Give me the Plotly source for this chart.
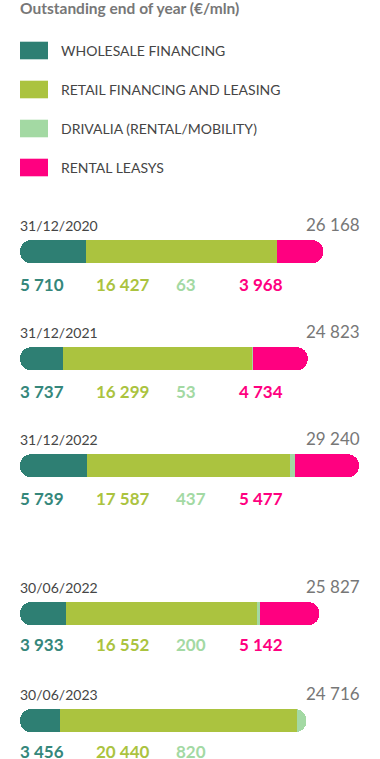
import plotly.graph_objects as go

# ---------------- data ----------------
title_text = "Outstanding end of year (€/mln)"
series_names = ["WHOLESALE FINANCING", "RETAIL FINANCING AND LEASING",
                "DRIVALIA (RENTAL/MOBILITY)", "RENTAL LEASYS"]
series_colors = ["#2e7f73", "#abc33f", "#a3d9a3", "#ff0080"]
label_colors = ["#35877b", "#abc33f", "#a3d9a3", "#ff0080"]

annual_dates = ["31/12/2020", "31/12/2021", "31/12/2022"]
annual_wholesale = [5710, 3737, 5739]
annual_retail = [16427, 16299, 17587]
annual_drivalia = [63, 53, 437]
annual_leasys = [3968, 4734, 5477]
annual_totals = [26168, 24823, 29240]

half_dates = ["30/06/2022", "30/06/2023"]
half_wholesale = [3933, 3456]
half_retail = [16552, 20440]
half_drivalia = [200, 820]
half_leasys = [5142, 0]
half_totals = [25827, 24716]

# ---------------- style ----------------
W, H = 380, 759
ML = 20
PLOT_W = W - ML
X_MAX = 31060
BAR_W = 0.215
RADIUS = 11.5
FONT = "Lato, 'Open Sans', sans-serif"
DARK = "#454545"
GREY = "#777777"
value_cols_px = [20, 96, 176, 239]
PADX = -2


def fmt(v):
    return f"{v:,}".replace(",", " ")


def px_to_paper_y(py):
    return 1 - py / H


def px_to_paper_x(px):
    return (px - ML) / PLOT_W


groups = [
    dict(dates=annual_dates, vals=[annual_wholesale, annual_retail, annual_drivalia, annual_leasys],
         totals=annual_totals, xa="x", ya="y", val_shift=-33),
    dict(dates=half_dates, vals=[half_wholesale, half_retail, half_drivalia, half_leasys],
         totals=half_totals, xa="x2", ya="y2", val_shift=-30.5),
]

fig = go.Figure()
annotations = []


def bar(y, x, base, color, g, radius=None):
    m = dict(color=color, line=dict(width=0))
    if radius:
        m["cornerradius"] = radius
    return go.Bar(orientation="h", y=y, x=x, base=base, width=BAR_W, marker=m,
                  xaxis=g["xa"], yaxis=g["ya"], hoverinfo="skip", showlegend=False)


for g in groups:
    dates = g["dates"]
    vals = g["vals"]
    totals = [sum(vals[i][r] for i in range(4)) for r in range(len(dates))]
    n = len(dates)
    last_idx = [max(i for i in range(4) if vals[i][r] > 0) for r in range(n)]
    starts = []
    for r in range(n):
        acc = 0
        row = []
        for i in range(4):
            row.append(acc)
            acc += vals[i][r]
        starts.append(row)

    half = [t / 2 for t in totals]
    # rounded left cap (wholesale colour) – its inner end is hidden by the middle segments
    fig.add_trace(bar(dates, half, [0] * n, series_colors[0], g, RADIUS))
    # rounded right cap (colour of each row's last segment)
    fig.add_trace(bar(dates, half, half, [series_colors[last_idx[r]] for r in range(n)], g, RADIUS))

    # square segments drawn on top (all except the outer two)
    for i in range(1, 4):
        xs = [vals[i][r] if (vals[i][r] > 0 and last_idx[r] != i) else None for r in range(n)]
        bs = [starts[r][i] for r in range(n)]
        fig.add_trace(bar(dates, xs, bs, series_colors[i], g))

    for r in range(n):
        annotations.append(dict(
            text=dates[r], xref="paper", yref=g["ya"], x=0, y=dates[r],
            xanchor="left", yanchor="middle", yshift=26.5, xshift=PADX, showarrow=False,
            font=dict(family=FONT, size=14, color=DARK)))
        annotations.append(dict(
            text=fmt(g["totals"][r]), xref="paper", yref=g["ya"], x=px_to_paper_x(360), y=dates[r],
            xanchor="right", yanchor="middle", yshift=27.5, xshift=-PADX, showarrow=False,
            font=dict(family=FONT, size=17, color=GREY)))
        for i in range(4):
            v = vals[i][r]
            if v > 0:
                annotations.append(dict(
                    text=f"<b>{fmt(v)}</b>", xref="paper", yref=g["ya"],
                    x=px_to_paper_x(value_cols_px[i]), y=dates[r],
                    xanchor="left", yanchor="middle", yshift=g["val_shift"], xshift=PADX,
                    showarrow=False,
                    font=dict(family=FONT, size=17, color=label_colors[i])))

# title
annotations.append(dict(
    text=f"<b>{title_text}</b>", xref="paper", yref="paper", x=0, y=px_to_paper_y(8),
    xanchor="left", yanchor="middle", xshift=PADX, showarrow=False,
    font=dict(family=FONT, size=15.5, color=GREY)))

# legend (swatches + labels)
shapes = []
for i, name in enumerate(series_names):
    cy = 50.5 + 39 * i
    shapes.append(dict(type="rect", xref="paper", yref="paper",
                       x0=0, x1=px_to_paper_x(48), y0=px_to_paper_y(cy - 8.8), y1=px_to_paper_y(cy + 8.8),
                       fillcolor=series_colors[i], line=dict(width=0)))
    annotations.append(dict(
        text=name, xref="paper", yref="paper", x=px_to_paper_x(61), y=px_to_paper_y(cy),
        xanchor="left", yanchor="middle", xshift=PADX, showarrow=False,
        font=dict(family=FONT, size=14, color=DARK)))

top_dom = [px_to_paper_y(519.3), px_to_paper_y(198.2)]
bot_dom = [0, px_to_paper_y(560.2)]
axis_common = dict(showgrid=False, zeroline=False, showticklabels=False, showline=False, ticks="")

fig.update_layout(
    width=W, height=H,
    margin=dict(l=ML, r=0, t=0, b=0),
    paper_bgcolor="white", plot_bgcolor="white",
    barmode="overlay", bargap=0,
    showlegend=False,
    xaxis=dict(domain=[0, 1], range=[0, X_MAX], anchor="y", fixedrange=True, **axis_common),
    xaxis2=dict(domain=[0, 1], range=[0, X_MAX], anchor="y2", fixedrange=True, **axis_common),
    yaxis=dict(domain=top_dom, type="category", range=[2.5, -0.5], anchor="x",
               fixedrange=True, **axis_common),
    yaxis2=dict(domain=bot_dom, type="category", range=[-0.5 + (H - 560.2) / 107.0, -0.5],
                anchor="x2", fixedrange=True, **axis_common),
    annotations=annotations,
    shapes=shapes,
    font=dict(family=FONT),
)

fig.write_html("out.html", config=dict(displayModeBar=False, staticPlot=True),
               post_script="document.body.style.margin='0';document.body.style.overflow='hidden';")
